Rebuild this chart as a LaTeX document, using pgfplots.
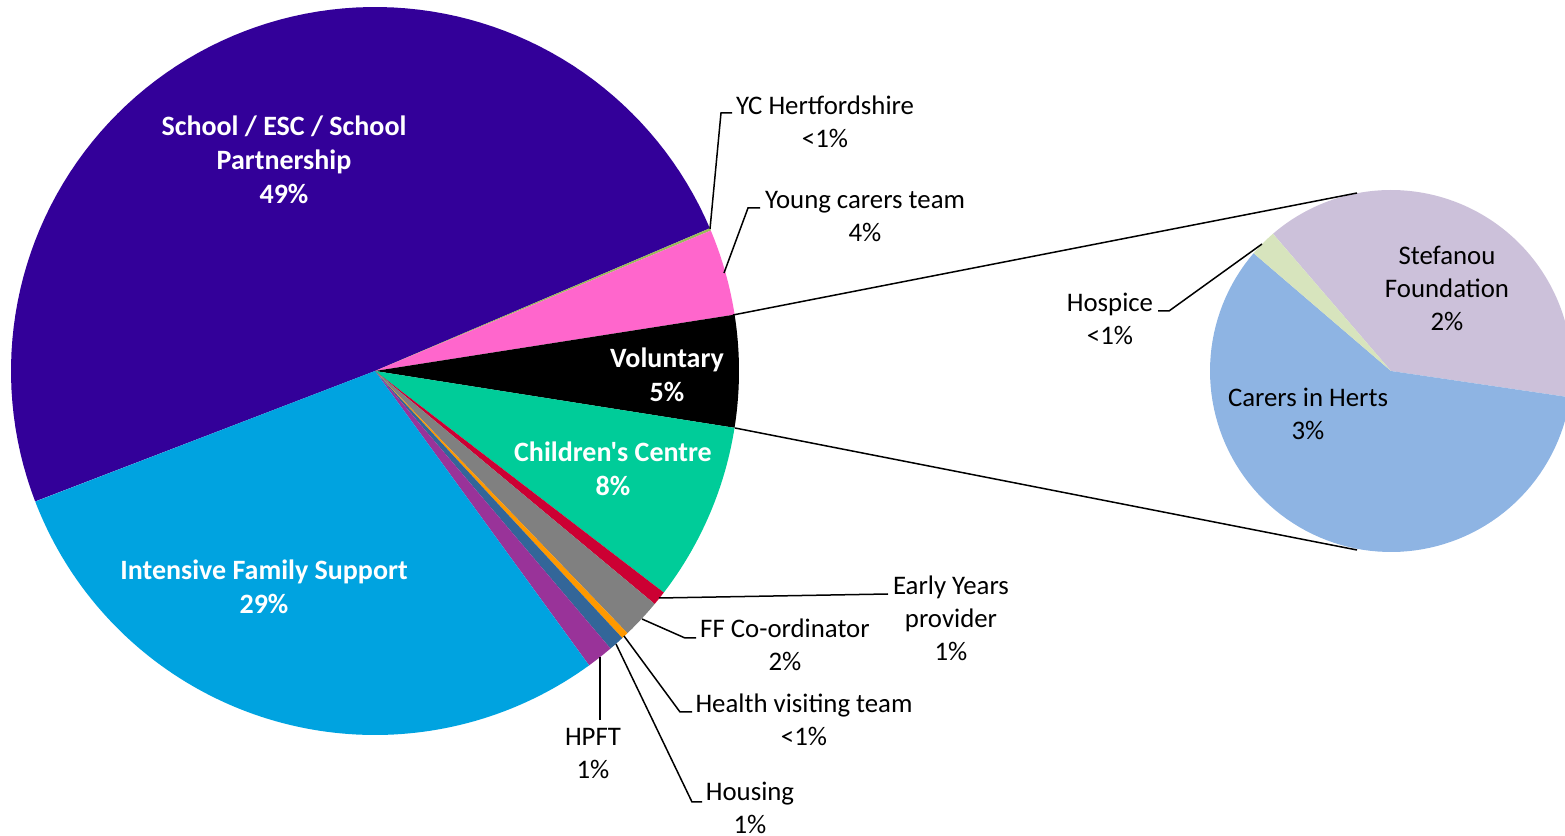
\documentclass[border=0pt]{standalone}
\usepackage{pgfplots}
\usepackage{pgfplotstable}
\pgfplotsset{compat=1.18}
\usepackage{fontspec}
\setmainfont{Carlito}[Ligatures=TeXOff]

\definecolor{cSchool}{HTML}{330099}
\definecolor{cYC}{HTML}{9BBB59}
\definecolor{cYoung}{HTML}{FF66CC}
\definecolor{cVol}{HTML}{000000}
\definecolor{cChild}{HTML}{00CC99}
\definecolor{cEarly}{HTML}{CC0033}
\definecolor{cFF}{HTML}{808080}
\definecolor{cHealth}{HTML}{FF9900}
\definecolor{cHousing}{HTML}{336699}
\definecolor{cHPFT}{HTML}{993399}
\definecolor{cIFS}{HTML}{00A3E0}
\definecolor{cStef}{HTML}{CCC1DA}
\definecolor{cCarers}{HTML}{8EB4E3}
\definecolor{cHospice}{HTML}{D7E4BD}

% main pie, clockwise from the School slice
\pgfplotstableread[col sep=comma]{
value,color
49.42,cSchool
0.11,cYC
3.83,cYoung
4.97,cVol
7.92,cChild
0.64,cEarly
1.75,cFF
0.31,cHealth
0.69,cHousing
1.19,cHPFT
29.17,cIFS
}\maindata

% second pie: split of "Voluntary", clockwise
\pgfplotstableread[col sep=comma]{
value,color
1.92,cStef
2.93,cCarers
0.12,cHospice
}\voldata

% #1 table, #2 cx, #3 cy, #4 r, #5 start angle
\newcommand\drawpie[5]{%
  \pgfplotstablegetrowsof{#1}%
  \pgfmathtruncatemacro\lastrow{\pgfplotsretval-1}%
  \def\piesum{0}%
  \pgfplotsforeachungrouped \i in {0,...,\lastrow}{%
    \pgfplotstablegetelem{\i}{value}\of{#1}%
    \pgfmathsetmacro\piesum{\piesum+\pgfplotsretval}%
  }%
  \pgfmathsetmacro\angstart{#5}%
  \pgfplotsforeachungrouped \i in {0,...,\lastrow}{%
    \pgfplotstablegetelem{\i}{value}\of{#1}\let\val\pgfplotsretval
    \pgfplotstablegetelem{\i}{color}\of{#1}\let\col\pgfplotsretval
    \pgfmathsetmacro\angend{\angstart-(\val/\piesum)*360}%
    \edef\temp{\noexpand\addplot[fill=\col, draw=none, domain=\angend:\angstart, samples=90, forget plot] ({#2+#4*cos(x)},{#3+#4*sin(x)}) -- (axis cs:#2,#3) -- cycle;}%
    \temp
    \global\let\angstart\angend
  }%
}

\tikzset{lbl/.style={align=center, font=\fontsize{13.4}{16.5}\selectfont},
         blbl/.style={align=center, text=white, font=\bfseries\fontsize{14}{17}\selectfont},
         lead/.style={black, line width=0.75pt}}

\begin{document}
\begin{tikzpicture}
\useasboundingbox (0,0) rectangle (782.5pt,418pt);
\begin{axis}[width=782.5pt, height=418pt, scale only axis,
  xmin=0, xmax=1565, ymin=0, ymax=836, hide axis, clip=true]

\drawpie{\maindata}{375}{465}{364}{201}
\drawpie{\voldata}{1391}{465}{181}{130.7}

% connectors
\draw[lead] (axis cs:733,521) -- (axis cs:1357,643);
\draw[lead] (axis cs:735,408) -- (axis cs:1357,286);

% leader lines
\draw[lead] (axis cs:710,607) -- (axis cs:721,723) -- (axis cs:732,723);
\draw[lead] (axis cs:724,563) -- (axis cs:748,628) -- (axis cs:760,628);
\draw[lead] (axis cs:1262,592) -- (axis cs:1169,525) -- (axis cs:1158,525);
\draw[lead] (axis cs:659,238) -- (axis cs:888,242);
\draw[lead] (axis cs:642,217) -- (axis cs:685,198) -- (axis cs:696,198);
\draw[lead] (axis cs:624,200) -- (axis cs:680,124) -- (axis cs:692,124);
\draw[lead] (axis cs:616,192) -- (axis cs:692,34) -- (axis cs:702,34);
\draw[lead] (axis cs:600,179) -- (axis cs:600,116);

% inside labels
\node[blbl] at (axis cs:284,676) {School / ESC / School\\Partnership\\49\%};
\node[blbl] at (axis cs:264,249) {Intensive Family Support\\29\%};
\node[blbl] at (axis cs:667,461) {Voluntary\\5\%};
\node[blbl] at (axis cs:613,367) {Children's Centre\\8\%};

% outside labels
\node[lbl] at (axis cs:825,714) {YC Hertfordshire\\<1\%};
\node[lbl] at (axis cs:865,619) {Young carers team\\4\%};
\node[lbl] at (axis cs:1447,548) {Stefanou\\Foundation\\2\%};
\node[lbl] at (axis cs:1308,422.5) {Carers in Herts\\3\%};
\node[lbl] at (axis cs:1110,517.5) {Hospice\\<1\%};
\node[lbl] at (axis cs:951,218) {Early Years\\provider\\1\%};
\node[lbl] at (axis cs:785,191) {FF Co-ordinator\\2\%};
\node[lbl] at (axis cs:804,116.5) {Health visiting team\\<1\%};
\node[lbl] at (axis cs:750,28) {Housing\\1\%};
\node[lbl] at (axis cs:593,82.5) {HPFT\\1\%};
\end{axis}
\end{tikzpicture}
\end{document}
